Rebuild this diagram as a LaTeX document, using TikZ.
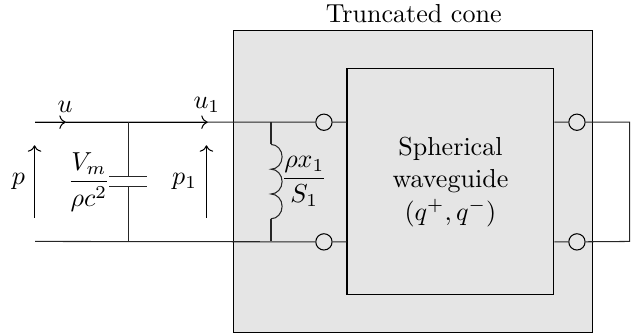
\documentclass[tikz,border=0pt]{standalone}
\usepackage{amsmath,amssymb}
\usetikzlibrary{arrows.meta,positioning,calc}

\begin{document}
\begin{tikzpicture}[
    scale=1.154,
    block/.style={draw, fill=black!10, inner sep=0pt, minimum width=#1},
    port/.style={draw, circle, fill=black!10, inner sep=0pt, minimum size=0.22cm},
    wire/.style={draw=black!85},
    flow/.style={->, black}
]
\useasboundingbox (0, 0) rectangle (7.523, 3.92);

% Truncated cone and waveguide
\node[block=4.847cm, minimum height=4.074cm] (cone) at (4.83, 1.80) {};
\node (conelabel) at (4.84, 3.76) {Truncated cone};
\node[block=2.793cm, minimum height=3.058cm, align=center] (guide) at (5.27, 1.795)
    {Spherical\\[0.5pt] waveguide\\[0.5pt] $(q^+, q^-)$};

% Ports
\node[port] (pa) at (3.79, 2.49) {};
\node[port] (pb) at (3.79, 1.09) {};
\node[port] (pc) at (6.75, 2.49) {};
\node[port] (pd) at (6.75, 1.09) {};

% Line ends
\coordinate (ina) at (0.41, 2.49);
\coordinate (inb) at (0.41, 1.095);
\coordinate (ua) at (0.77, 2.49);
\coordinate (ub) at (2.43, 2.49);
\coordinate (capa) at (1.50, 2.49);
\coordinate (capb) at (1.50, 1.095);
\coordinate (capc) at (1.50, 1.85);
\coordinate (capd) at (1.50, 1.74);
\coordinate (inda) at (3.17, 2.49);
\coordinate (indb) at (3.17, 1.095);
\coordinate (indc) at (3.17, 2.23);
\coordinate (indd) at (3.17, 1.36);
\coordinate (outa) at (7.365, 2.49);
\coordinate (outb) at (7.365, 1.095);

% Input lines
\draw[wire] (ina) -- (pa);
\draw[wire] (inb) -- (pb);
\draw[flow] (ina) -- (ua);
\draw[flow] (ua) -- (ub);
\node (u) at (0.76, 2.67) {$u$};
\node (ulabel) at (2.42, 2.69) {$u_1$};

% Pressure arrows
\coordinate (pfrom) at (0.404, 1.37);
\coordinate (pto) at (0.404, 2.22);
\coordinate (qfrom) at (2.415, 1.37);
\coordinate (qto) at (2.415, 2.22);
\draw[flow] (pfrom) -- (pto);
\draw[flow] (qfrom) -- (qto);
\node (p) at (0.215, 1.80) {$p$};
\node (pone) at (2.16, 1.80) {$p_1$};

% Capacitor
\draw[wire] (capa) -- (capc);
\draw[wire] (capd) -- (capb);
\draw[wire] ($(capc)+(-0.22, 0)$) -- ($(capc)+(0.22, 0)$);
\draw[wire] ($(capd)+(-0.22, 0)$) -- ($(capd)+(0.22, 0)$);
\node (capval) at (1.04, 1.79) {$\dfrac{V_m}{\rho c^2}$};

% Inductor
\draw[wire] (inda) -- (indc);
\draw[wire] (indd) -- (indb);
\draw[wire] (indd) arc[start angle=-90, end angle=90, x radius=0.13, y radius=0.145]
    arc[start angle=-90, end angle=90, x radius=0.13, y radius=0.145]
    arc[start angle=-90, end angle=90, x radius=0.13, y radius=0.145];
\node (indval) at (3.56, 1.80) {$\dfrac{\rho x_1}{S_1}$};

% Waveguide leads
\draw[wire] (pa) -- (pa -| guide.west);
\draw[wire] (pb) -- (pb -| guide.west);
\draw[wire] (pc -| guide.east) -- (pc);
\draw[wire] (pd -| guide.east) -- (pd);
\draw[wire] (pc) -- (outa) -- (outb) -- (pd);

\end{tikzpicture}
\end{document}
